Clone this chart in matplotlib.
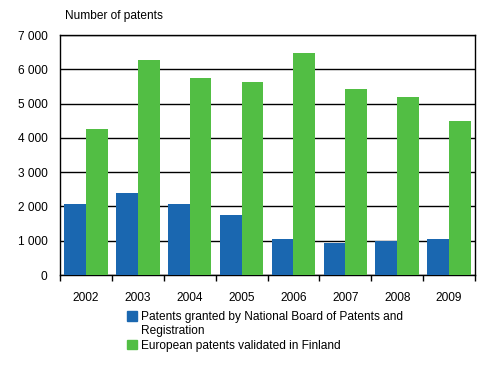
import matplotlib.pyplot as plt
import matplotlib.patches as mpatches
import numpy as np

years = ['2002', '2003', '2004', '2005', '2006', '2007', '2008', '2009']
national = [2070, 2390, 2070, 1750, 1050, 930, 990, 1050]
european = [4260, 6270, 5740, 5630, 6470, 5420, 5190, 4490]
yticks = [0, 1000, 2000, 3000, 4000, 5000, 6000, 7000]

blue = '#1a67b0'
green = '#52be44'

plt.rcParams['font.family'] = ['Liberation Sans', 'DejaVu Sans']
plt.rcParams['font.size'] = 8.6

fig = plt.figure(figsize=(4.93, 3.79), dpi=100)
ax = fig.add_axes([60 / 493, 1 - 275 / 379, 415 / 493, 240 / 379])

x = np.arange(len(years))
w = 0.42
ax.bar(x - w / 2, national, w, color=blue, zorder=3)
ax.bar(x + w / 2, european, w, color=green, zorder=3)

ax.set_xlim(-0.5, len(years) - 0.5)
ax.set_ylim(0, 7000)
ax.set_yticks(yticks)
ax.set_yticklabels([f'{v:,}'.replace(',', ' ') for v in yticks])
ax.yaxis.grid(True, color='black', linewidth=1, zorder=0)
ax.tick_params(axis='y', length=0, pad=9)

ax.set_xticks(x)
ax.set_xticklabels(years)
ax.tick_params(axis='x', length=0, pad=12)
ax.set_xticks(np.arange(-0.5, len(years), 1), minor=True)
ax.tick_params(axis='x', which='minor', length=4, width=1, direction='out')

for s in ax.spines.values():
    s.set_linewidth(1)
    s.set_color('black')

fig.text(65 / 493, 1 - 16 / 379, 'Number of patents', ha='left', va='center')

# legend: first label wraps onto a second line with no marker
handles = [mpatches.Patch(color=blue),
           mpatches.Patch(color='none'),
           mpatches.Patch(color=green)]
labels = ['Patents granted by National Board of Patents and',
          'Registration',
          'European patents validated in Finland']
ax.legend(handles, labels, loc='upper left', bbox_to_anchor=(127 / 493, 1 - 311 / 379),
          bbox_transform=fig.transFigure, frameon=False, handlelength=0.85,
          handleheight=0.85, handletextpad=0.35, labelspacing=0.2,
          borderaxespad=0, borderpad=0)

fig.savefig('out.png', dpi=100)
